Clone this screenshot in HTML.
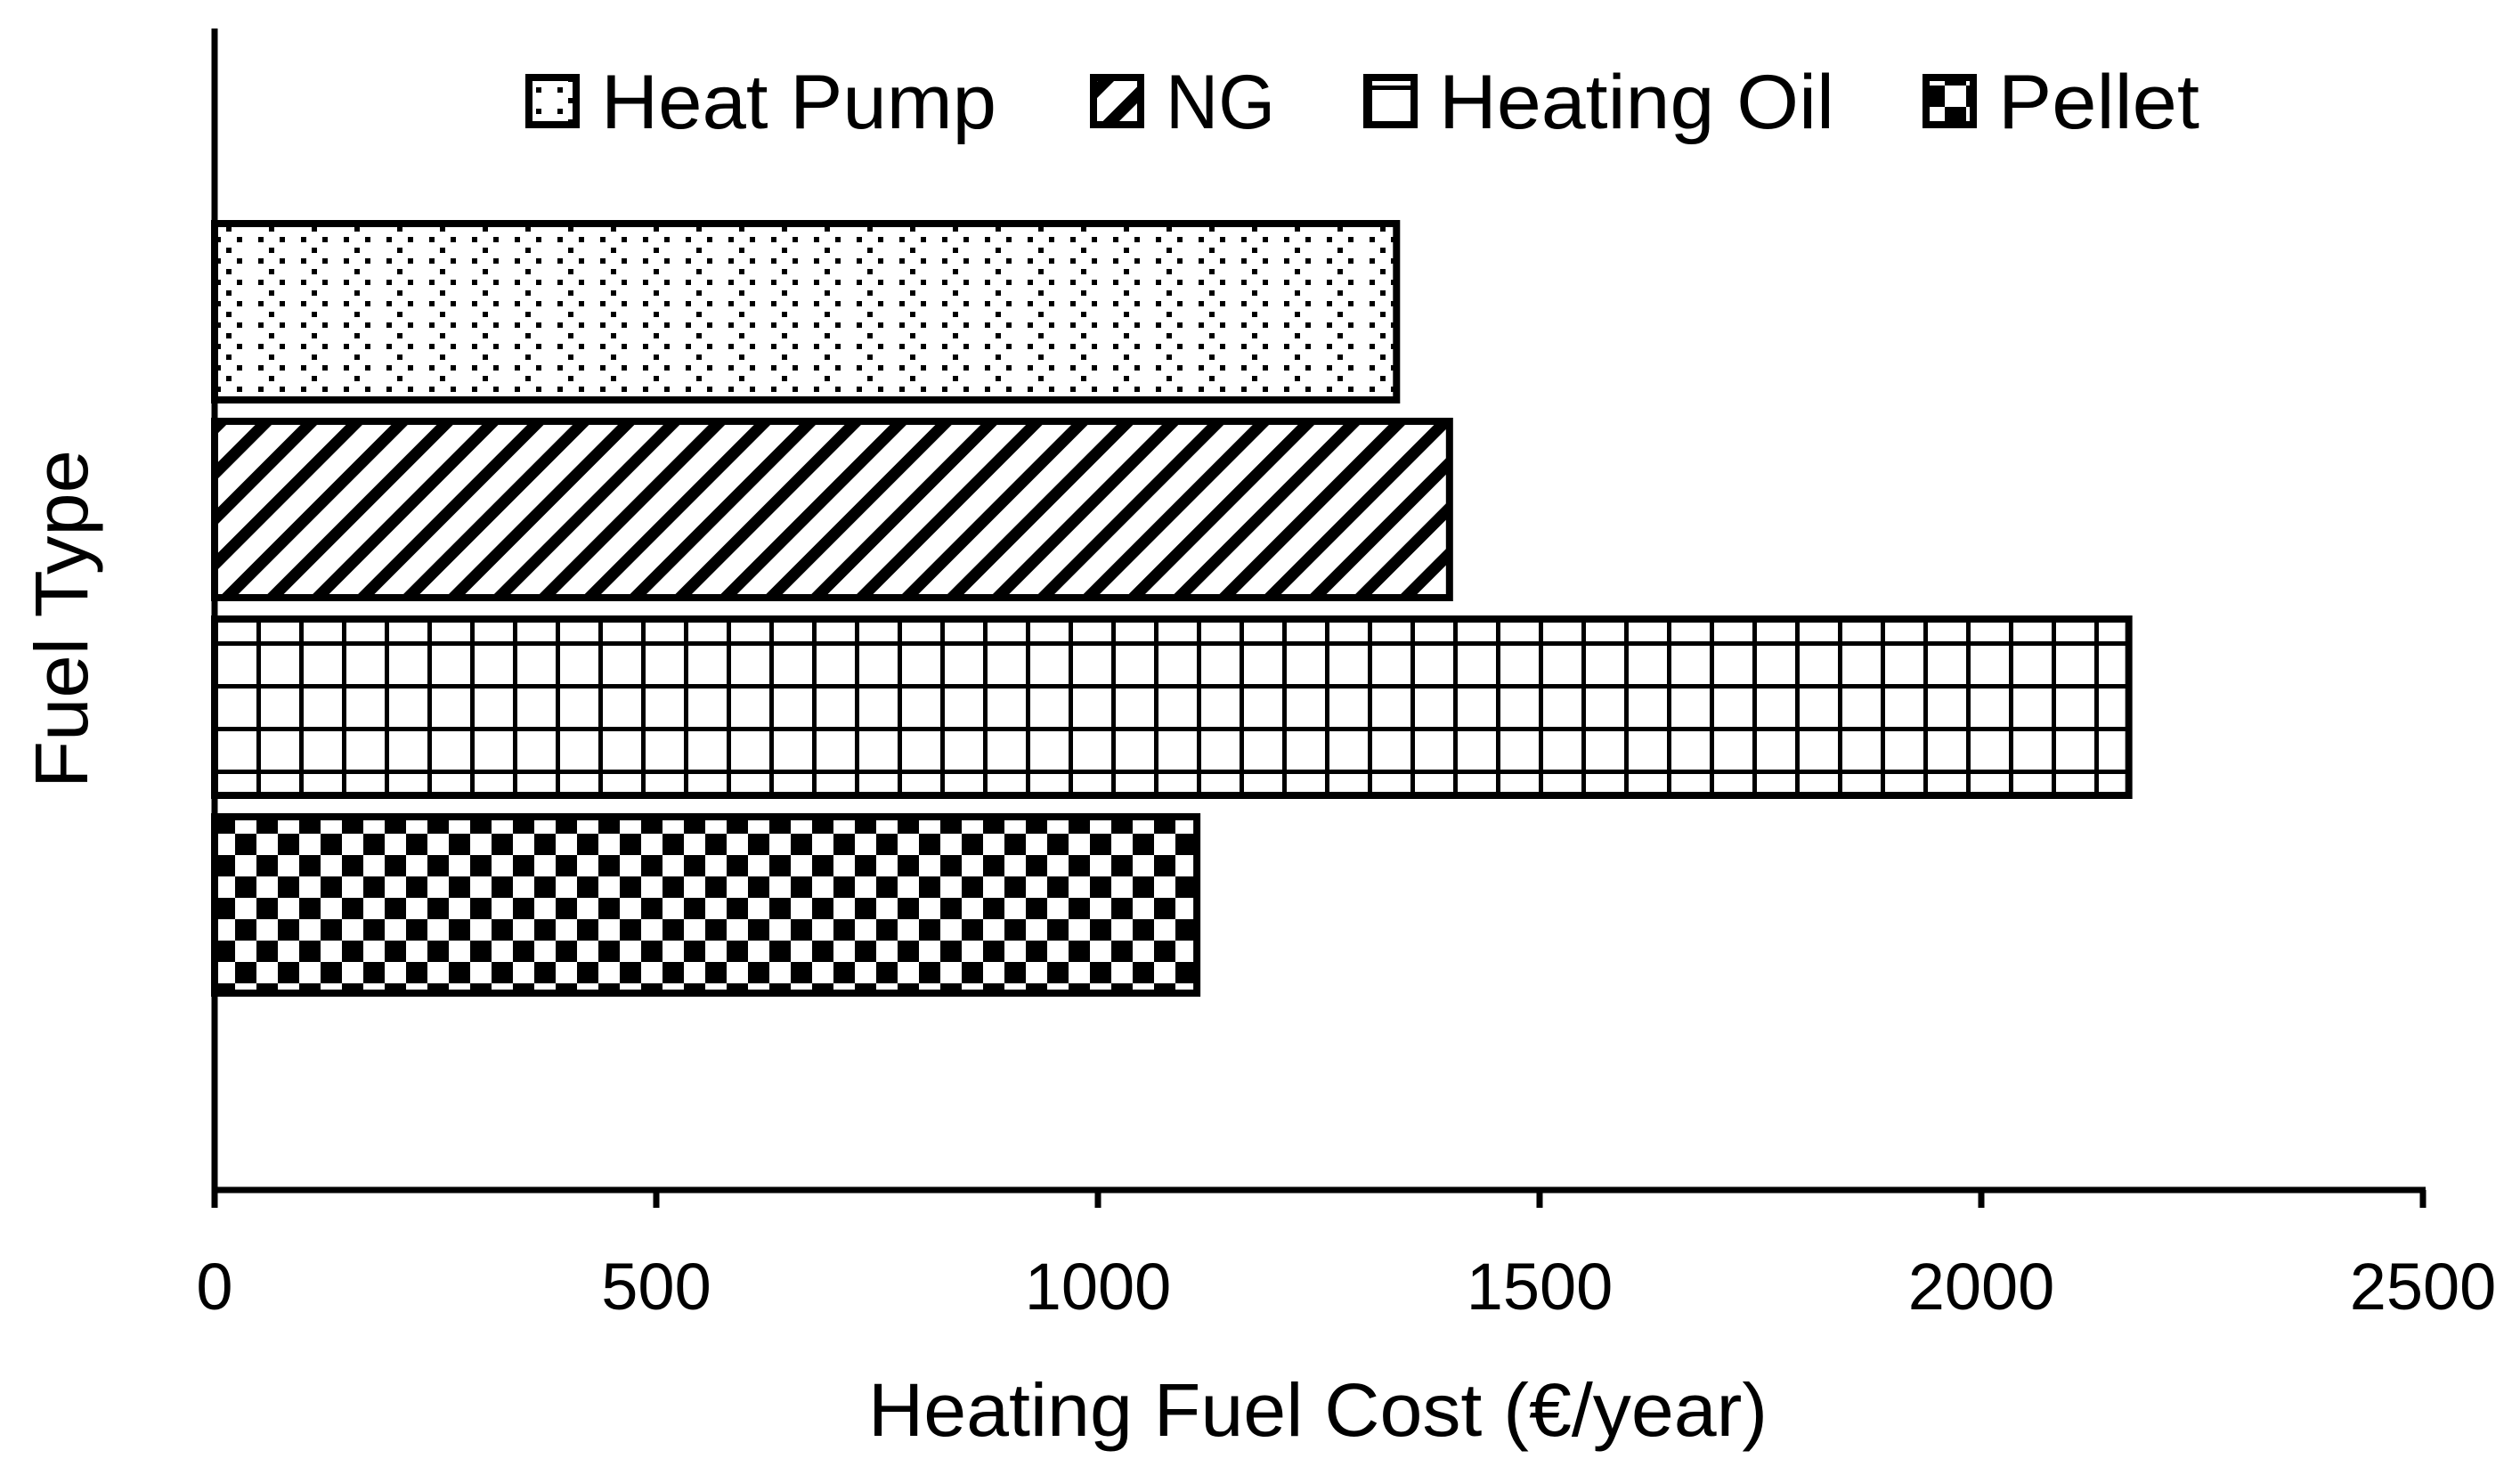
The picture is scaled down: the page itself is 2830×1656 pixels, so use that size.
<!DOCTYPE html>
<html><head><meta charset="utf-8"><style>
html,body{margin:0;padding:0;background:#fff}
svg{display:block}
text{font-family:"Liberation Sans",sans-serif;fill:#000}
</style></head><body>
<svg id="chart" width="2830" height="1656" viewBox="0 0 2830 1656" xmlns="http://www.w3.org/2000/svg">
<defs>
<pattern id="p-dots" width="48" height="24" patternUnits="userSpaceOnUse">
<rect x="2" y="2" width="6" height="6" fill="#000"/><rect x="26" y="2" width="6" height="6" fill="#000"/><rect x="14" y="14" width="6" height="6" fill="#000"/>
</pattern>
<pattern id="p-diag" width="36" height="36" patternUnits="userSpaceOnUse" patternTransform="rotate(45)">
<rect x="0" y="0" width="13" height="36" fill="#000"/>
</pattern>
<pattern id="p-grid" width="48" height="48" patternUnits="userSpaceOnUse">
<rect x="0" y="0" width="5" height="48" fill="#000"/><rect x="0" y="0" width="48" height="5" fill="#000"/>
</pattern>
<pattern id="p-check" width="48" height="48" patternUnits="userSpaceOnUse">
<rect x="0" y="0" width="24" height="24" fill="#000"/><rect x="24" y="24" width="24" height="24" fill="#000"/>
</pattern>
</defs>
<g id="bars"></g>
<g id="axes"></g>
<g id="legend"></g>
<text x="1480" y="1612" font-size="84" text-anchor="middle" textLength="1010" lengthAdjust="spacingAndGlyphs">Heating Fuel Cost (€/year)</text>
<text x="0" y="0" font-size="84" text-anchor="middle" textLength="380" lengthAdjust="spacingAndGlyphs" transform="translate(98,695) rotate(-90)">Fuel Type</text>
</svg>
<script>
const categories = ["Heat Pump","NG","Heating Oil","Pellet"];
const values = [1338, 1398, 2167, 1112];
const tickValues = [0, 500, 1000, 1500, 2000, 2500];
const tickLabels = ["0","500","1000","1500","2000","2500"];
const patterns = ["p-dots","p-diag","p-grid","p-check"];

const NS = "http://www.w3.org/2000/svg";
const X0 = 241, X1 = 2721, VMAX = 2500;
const Y0 = 32, Y1 = 1336;
function xs(v){ return X0 + (v / VMAX) * (X1 - X0); }
function ys(i){ return 251 + i * 222; }
const BH = 198;
function mk(tag, attrs, parent){
  const e = document.createElementNS(NS, tag);
  for (const k in attrs) e.setAttribute(k, attrs[k]);
  parent.appendChild(e);
  return e;
}
const gb = document.getElementById("bars");
categories.forEach((c, i) => {
  const r = mk("rect", {x: xs(0), y: ys(i), width: xs(values[i]) - xs(0), height: BH, fill: "url(#" + patterns[i] + ")", stroke: "#000", "stroke-width": 8}, gb);
  
  
});
const ga = document.getElementById("axes");
const ya = mk("line", {x1: X0, y1: Y0, x2: X0, y2: Y1, stroke: "#000", "stroke-width": 7}, ga);


const xa = mk("line", {x1: X0 - 3, y1: Y1, x2: X1 + 3, y2: Y1, stroke: "#000", "stroke-width": 7}, ga);


tickValues.forEach((v, i) => {
  const t = mk("line", {x1: xs(v), y1: Y1, x2: xs(v), y2: Y1 + 20, stroke: "#000", "stroke-width": 7}, ga);
  
  
  const l = mk("text", {x: xs(v), y: 1470, "font-size": 74, "text-anchor": "middle"}, ga);
  l.textContent = tickLabels[i];
  
  
});
const gl = document.getElementById("legend");
const legBoxX = [590, 1224, 1531, 2159];
const legTextW = [444, 123, 444, 226];
categories.forEach((c, i) => {
  const b = mk("rect", {x: legBoxX[i] + 4, y: 87, width: 53, height: 53, fill: "url(#" + patterns[i] + ")", stroke: "#000", "stroke-width": 8}, gl);
  
  
  const t = mk("text", {x: legBoxX[i] + 85, y: 144, "font-size": 86, textLength: legTextW[i], lengthAdjust: "spacingAndGlyphs"}, gl);
  t.textContent = c;
  
  
});
</script>
</body></html>
